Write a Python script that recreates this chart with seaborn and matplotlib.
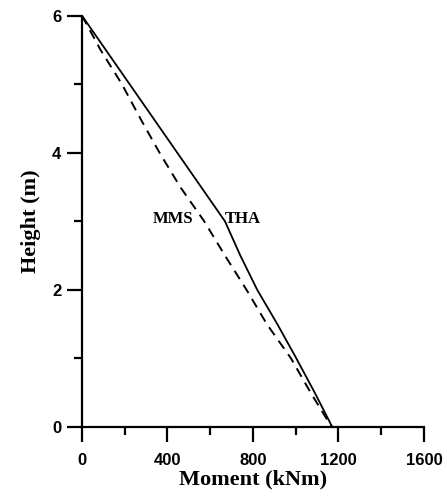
import matplotlib
matplotlib.use('Agg')
import matplotlib.pyplot as plt
from matplotlib.ticker import MultipleLocator
import seaborn as sns

# THA (time history analysis) moment profile
tha_height = [6.0, 3.0, 2.5, 2.0, 1.5, 1.0, 0.5, 0.0]
tha_moment = [0, 669, 741, 820, 914, 1003, 1089, 1171]

# MMS moment profile
mms_height = [6.0, 5.5, 5.0, 4.5, 4.0, 3.5, 3.0, 2.5, 2.0, 1.5, 1.0, 0.5, 0.0]
mms_moment = [0, 87, 187, 273, 363, 460, 572, 669, 770, 865, 978, 1070, 1168]

sns.set_style('ticks')
plt.rcParams['text.color'] = 'black'
plt.rcParams['axes.labelcolor'] = 'black'
plt.rcParams['xtick.color'] = 'black'
plt.rcParams['ytick.color'] = 'black'
plt.rcParams['axes.edgecolor'] = 'black'

fig = plt.figure(figsize=(4.47, 4.98), dpi=100)
ax = fig.add_axes([0.1834, 0.1426, 0.7651, 0.8259])

sns.lineplot(x=tha_moment, y=tha_height, sort=False, estimator=None,
             color='black', linewidth=1.3, ax=ax)
sns.lineplot(x=mms_moment, y=mms_height, sort=False, estimator=None,
             color='black', linewidth=1.4, linestyle=(0, (5, 3.5)), ax=ax)

serif = ['Liberation Serif', 'DejaVu Serif']
ax.text(522, 3.03, 'MMS', ha='right', va='center', fontsize=12,
        fontweight='bold', family=serif)
ax.text(668, 3.03, 'THA', ha='left', va='center', fontsize=12,
        fontweight='bold', family=serif)

ax.set_xlim(0, 1600)
ax.set_ylim(0, 6)
ax.xaxis.set_major_locator(MultipleLocator(400))
ax.xaxis.set_minor_locator(MultipleLocator(200))
ax.yaxis.set_major_locator(MultipleLocator(2))
ax.yaxis.set_minor_locator(MultipleLocator(1))

ax.tick_params(which='major', length=11, width=1.6, direction='out')
ax.tick_params(which='minor', length=6, width=1.6, direction='out')
ax.tick_params(axis='x', which='major', pad=8)
ax.tick_params(axis='y', which='major', pad=4)
for lab in ax.get_xticklabels() + ax.get_yticklabels():
    lab.set_family(['Liberation Sans', 'DejaVu Sans'])
    lab.set_fontweight('bold')
    lab.set_fontsize(12)

ax.set_xlabel('Moment (kNm)', fontsize=16, fontweight='bold',
              family=serif, labelpad=1)
ax.set_ylabel('Height (m)', fontsize=16, fontweight='bold',
              family=serif, labelpad=8)

for s in ['left', 'bottom']:
    ax.spines[s].set_linewidth(1.6)
sns.despine(ax=ax)

fig.savefig('out.png', dpi=100)
